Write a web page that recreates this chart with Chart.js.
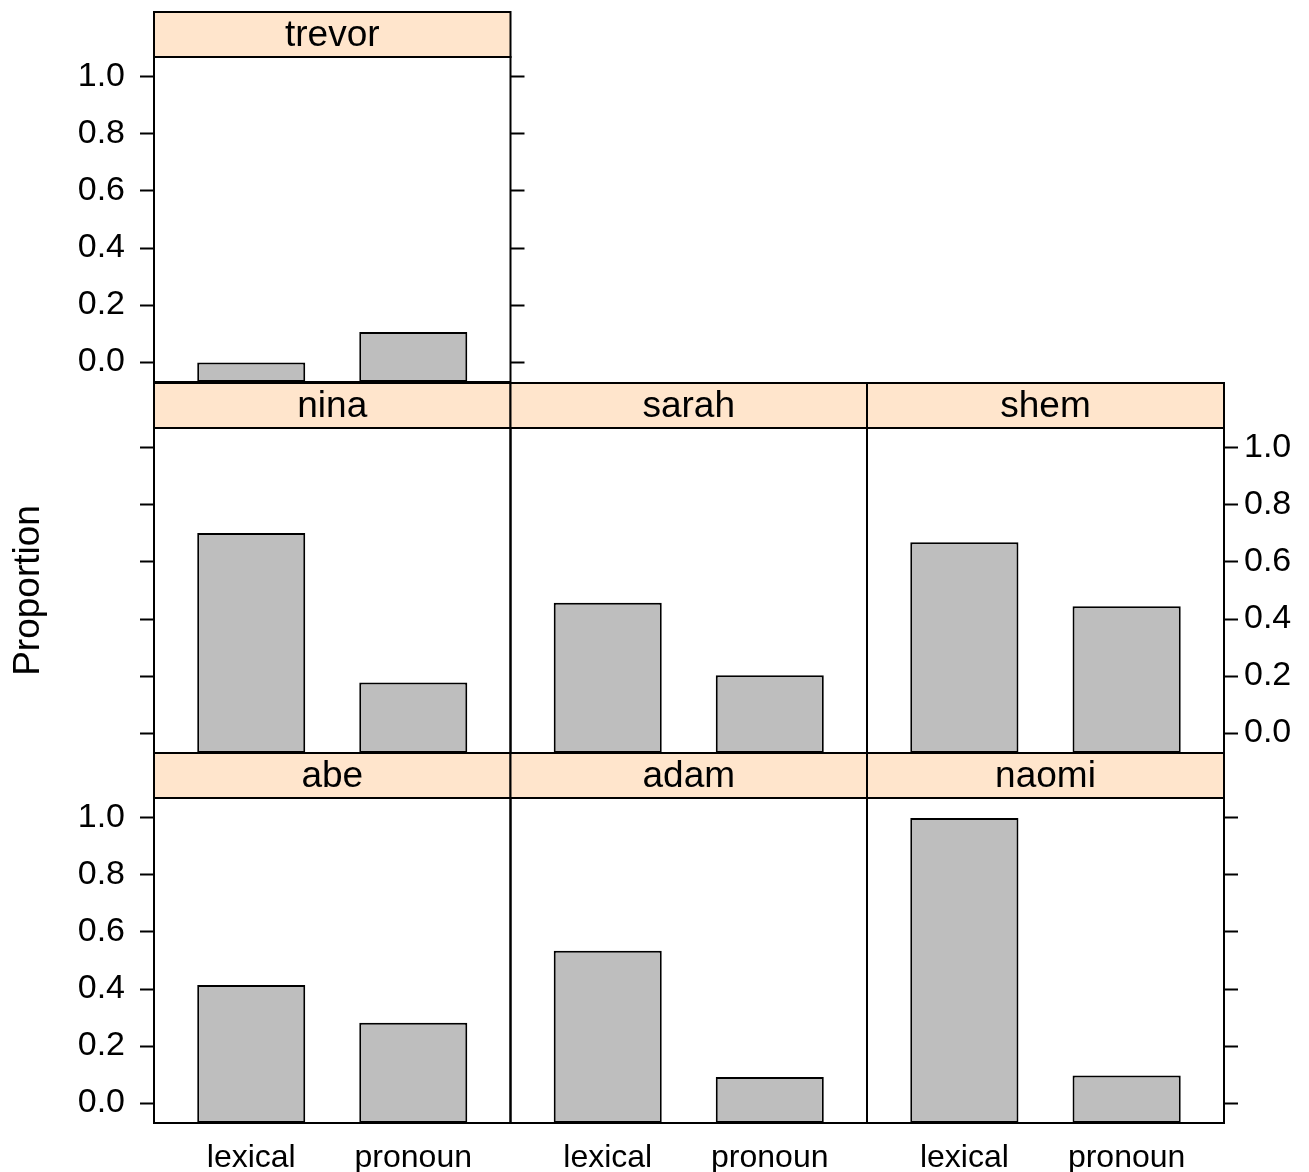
<!DOCTYPE html>
<html>
<head>
<meta charset="utf-8">
<script src="https://cdn.jsdelivr.net/npm/chart.js@4/dist/chart.umd.min.js"></script>
<style>
  html, body { margin: 0; padding: 0; background: #fff; }
  #wrap { position: relative; width: 1309px; height: 1172px; }
  #wrap canvas { position: absolute; left: 0; top: 0; }
</style>
</head>
<body>
<div id="wrap"></div>
<script>
// proportions per speaker, panels filled from bottom-left like lattice
const speakers = ["abe", "adam", "naomi", "nina", "sarah", "shem", "trevor"];
const categories = ["lexical", "pronoun"];
const lexicalProp = [0.414, 0.534, 1.0, 0.702, 0.457, 0.669, 0.0];
const pronounProp = [0.282, 0.091, 0.097, 0.177, 0.203, 0.445, 0.105];
const yTicks = [0.0, 0.2, 0.4, 0.6, 0.8, 1.0];
const yLabel = "Proportion";

const Y_MIN = -0.07, Y_MAX = 1.07;
const W = 1309, H = 1172;
const colEdges = [154, 510.5, 867, 1224];
const rowTops = [798, 428, 57];      // bottom row first
const panelH = 325;
const stripH = 45;
const FONT = "'Liberation Sans', Arial, Helvetica, sans-serif";
const stripSize = 37, tickSize = 34, catSize = 32, labSize = 37;
const LW = 2;

// strip + panel frame
const framePlugin = {
  id: "frame",
  afterDraw(chart, args, opts) {
    const { ctx, chartArea: a } = chart;
    ctx.save();
    ctx.fillStyle = "#FFE5CC";
    ctx.fillRect(a.left, a.top - stripH, a.right - a.left, stripH);
    ctx.lineWidth = LW;
    ctx.strokeStyle = "#000";
    ctx.strokeRect(a.left, a.top - stripH, a.right - a.left, stripH);
    ctx.strokeRect(a.left, a.top, a.right - a.left, a.bottom - a.top);
    ctx.fillStyle = "#000";
    ctx.font = stripSize + "px " + FONT;
    ctx.textAlign = "center";
    ctx.textBaseline = "middle";
    ctx.fillText(opts.title, (a.left + a.right) / 2, a.top - stripH / 2 + 1);
    ctx.restore();
  }
};

function yAxis(position, width, showTicks, showLabels, title) {
  return {
    type: "linear",
    position: position,
    min: Y_MIN,
    max: Y_MAX,
    afterBuildTicks: s => { s.ticks = yTicks.map(v => ({ value: v })); },
    afterFit: s => { s.width = width; },
    border: { display: false },
    grid: {
      display: showTicks,
      drawOnChartArea: false,
      drawTicks: true,
      tickLength: 14,
      tickWidth: LW,
      tickColor: "#000"
    },
    ticks: {
      display: showLabels,
      padding: position === "left" ? 15 : 6,
      color: "#000",
      font: { family: FONT, size: tickSize },
      callback: v => v.toFixed(1)
    },
    title: {
      display: !!title,
      text: title || "",
      color: "#000",
      font: { family: FONT, size: labSize },
      padding: { top: 7, bottom: 0 }
    }
  };
}

const wrap = document.getElementById("wrap");

speakers.forEach((name, i) => {
  const col = i % 3, row = Math.floor(i / 3);
  const left = colEdges[col], right = colEdges[col + 1];
  const top = rowTops[row], bottom = top + panelH;
  const isLeft = col === 0;
  const isRight = col === 2 || i === speakers.length - 1;
  const isBottom = row === 0;
  // alternating tick labels: rows 0 and 2 on the left, row 1 on the right
  const labelsLeft = row !== 1, labelsRight = row === 1;

  const canvas = document.createElement("canvas");
  canvas.width = W; canvas.height = H;
  canvas.style.width = W + "px"; canvas.style.height = H + "px";
  wrap.appendChild(canvas);

  new Chart(canvas.getContext("2d"), {
    type: "bar",
    data: {
      datasets: [{
        data: [
          { x: 1, y: [Y_MIN, lexicalProp[i]] },
          { x: 2, y: [Y_MIN, pronounProp[i]] }
        ],
        backgroundColor: "#BEBEBE",
        borderColor: "#000",
        borderWidth: LW,
        borderSkipped: false,
        categoryPercentage: 1,
        barPercentage: 2 / 3
      }]
    },
    options: {
      responsive: false,
      animation: false,
      events: [],
      layout: { padding: { top: top, left: 0, right: 0, bottom: 0 } },
      plugins: {
        legend: { display: false },
        tooltip: { enabled: false },
        frame: { title: name }
      },
      scales: {
        x: {
          type: "linear",
          min: 0.4,
          max: 2.6,
          offset: false,
          afterBuildTicks: s => { s.ticks = categories.map((c, k) => ({ value: k + 1 })); },
          afterFit: s => { s.height = H - bottom; },
          border: { display: false },
          grid: { display: false, offset: false },
          ticks: {
            display: isBottom,
            padding: 8,
            color: "#000",
            font: { family: FONT, size: catSize },
            callback: v => categories[Math.round(v) - 1]
          }
        },
        y: yAxis("left", left, isLeft, isLeft && labelsLeft, (isLeft && row === 1) ? yLabel : null),
        y2: yAxis("right", W - right, isRight, isRight && labelsRight, null)
      }
    },
    plugins: [framePlugin]
  });
});
</script>
</body>
</html>
